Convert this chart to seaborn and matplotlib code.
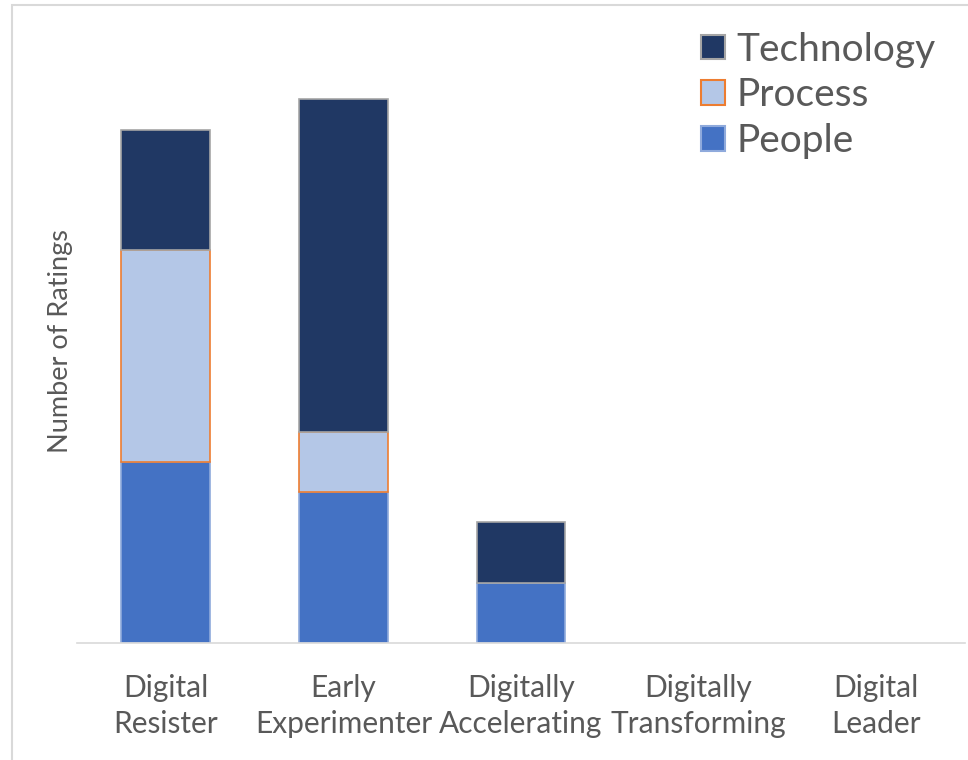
import matplotlib
matplotlib.use("Agg")
import matplotlib.pyplot as plt
import numpy as np
import pandas as pd
import seaborn as sns
from matplotlib.patches import Patch, Rectangle

categories = ["Digital\nResister", "Early\nExperimenter", "Digitally\nAccelerating",
              "Digitally\nTransforming", "Digital\nLeader"]
people = [6, 5, 2, 0, 0]
process = [7, 2, 0, 0, 0]
technology = [4, 11, 2, 0, 0]

series = ["People", "Process", "Technology"]
fills = {"People": "#4472C4", "Process": "#B4C7E7", "Technology": "#203864"}
edges = {"People": "#8FAADC", "Process": "#ED7D31", "Technology": "#A5A5A5"}

df = pd.DataFrame({"category": categories, "People": people,
                   "Process": process, "Technology": technology})

sns.set_style("white")
plt.rcParams["font.family"] = ["Lato", "DejaVu Sans"]
text_col = "#595959"

fig = plt.figure(figsize=(9.68, 7.6), dpi=100)
ax = fig.add_axes([77 / 968, 1 - 643 / 760, 888 / 968, 604 / 760])

bottom = np.zeros(len(categories))
for name in series:
    n_before = len(ax.patches)
    sns.barplot(data=df, x="category", y=name, order=categories, bottom=bottom,
                color=fills[name], saturation=1, width=0.5,
                edgecolor=edges[name], linewidth=1.2, ax=ax)
    for p in ax.patches[n_before:]:
        if p.get_height() == 0:
            p.set_linewidth(0)
    bottom = bottom + df[name].to_numpy()

ax.set_ylim(0, 20)
ax.set_xlim(-0.5, 4.5)
ax.set_yticks([])
for s in ["top", "right", "left"]:
    ax.spines[s].set_visible(False)
ax.spines["bottom"].set_color("#D9D9D9")
ax.spines["bottom"].set_linewidth(1.2)
ax.tick_params(axis="x", length=0, pad=22, labelsize=21.5, labelcolor=text_col)
for t in ax.get_xticklabels():
    t.set_linespacing(1.36)
ax.set_xlabel("")
ax.set_ylabel("Number of Ratings", fontsize=19.5, color=text_col, labelpad=3)

handles = [Patch(facecolor=fills[n], edgecolor=edges[n], linewidth=1.5) for n in series[::-1]]
leg = ax.legend(handles, series[::-1], loc="upper right", bbox_to_anchor=(1.006, 1.07),
                frameon=False, fontsize=28, handlelength=0.6, handleheight=0.6,
                handletextpad=0.3, labelspacing=0.25, labelcolor=text_col)

fig.patches.append(Rectangle((12 / 968, -0.1), 1.2, 1 - 5 / 760 + 0.1,
                             transform=fig.transFigure, fill=False,
                             edgecolor="#D9D9D9", linewidth=1.5))

fig.savefig("out.png", dpi=100)
